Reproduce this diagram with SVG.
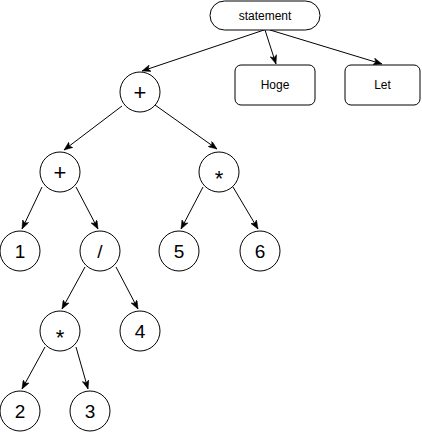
<svg xmlns="http://www.w3.org/2000/svg" width="422" height="432" viewBox="0 0 422 432">
<style>
.n{fill:#fff;stroke:#000;stroke-width:1}
.t{font-family:"Liberation Sans",Arial,sans-serif;fill:#000;text-anchor:middle}
.s{font-size:12px}
.b{font-size:19px}
.o{font-size:22px}
.e{stroke:#000;stroke-width:1;fill:none;marker-end:url(#arr)}
</style>
<defs>
<marker id="arr" viewBox="0 0 10 8" refX="10" refY="4" markerWidth="9" markerHeight="7" markerUnits="userSpaceOnUse" orient="auto">
<path d="M0,0 L10,4 L0,8 L2.5,4 Z" fill="#000" stroke="#000" stroke-width="0.5"/>
</marker>
</defs>
<rect width="422" height="432" fill="#fff"/>
<g id="connectors">
<line class="e" x1="264" y1="30" x2="142" y2="71"/>
<line class="e" x1="265" y1="30" x2="276" y2="64"/>
<line class="e" x1="270" y1="30" x2="382" y2="64"/>
<line class="e" x1="122" y1="106" x2="64" y2="150"/>
<line class="e" x1="155" y1="105" x2="217" y2="149"/>
<line class="e" x1="42" y1="187" x2="22" y2="229"/>
<line class="e" x1="76" y1="187" x2="98" y2="229"/>
<line class="e" x1="203" y1="187" x2="181" y2="229"/>
<line class="e" x1="233" y1="187" x2="258" y2="229"/>
<line class="e" x1="85" y1="267" x2="62" y2="309"/>
<line class="e" x1="116" y1="267" x2="138" y2="309"/>
<line class="e" x1="45" y1="347" x2="22" y2="389"/>
<line class="e" x1="76" y1="347" x2="88" y2="389"/>
</g>
<g id="statement"><rect class="n" x="210" y="1" width="110" height="29" rx="14.5"/><text class="t s" x="265" y="19.5">statement</text></g>
<g id="hoge"><rect class="n" x="235" y="65" width="80" height="40" rx="6"/><text class="t s" x="275" y="89">Hoge</text></g>
<g id="let"><rect class="n" x="345" y="65" width="75" height="40" rx="6"/><text class="t s" x="382.5" y="89">Let</text></g>
<g id="plus1"><circle class="n" cx="140" cy="92" r="20"/><text class="t o" x="140" y="100">+</text></g>
<g id="plus2"><circle class="n" cx="60" cy="172" r="20"/><text class="t o" x="60" y="180">+</text></g>
<g id="mul1"><circle class="n" cx="219" cy="172" r="20"/><text class="t o" x="219" y="186">*</text></g>
<g id="n1"><circle class="n" cx="20" cy="251" r="20"/><text class="t b" x="20" y="257.5">1</text></g>
<g id="div"><circle class="n" cx="100" cy="251" r="20"/><text class="t b" x="100" y="257.5">/</text></g>
<g id="n5"><circle class="n" cx="179" cy="251" r="20"/><text class="t b" x="179" y="257.5">5</text></g>
<g id="n6"><circle class="n" cx="260" cy="251" r="20"/><text class="t b" x="260" y="257.5">6</text></g>
<g id="mul2"><circle class="n" cx="60" cy="331" r="20"/><text class="t o" x="60" y="345">*</text></g>
<g id="n4"><circle class="n" cx="140" cy="331" r="20"/><text class="t b" x="140" y="337.5">4</text></g>
<g id="n2"><circle class="n" cx="20" cy="411" r="20"/><text class="t b" x="20" y="417.5">2</text></g>
<g id="n3"><circle class="n" cx="90" cy="411" r="20"/><text class="t b" x="90" y="417.5">3</text></g>
</svg>
